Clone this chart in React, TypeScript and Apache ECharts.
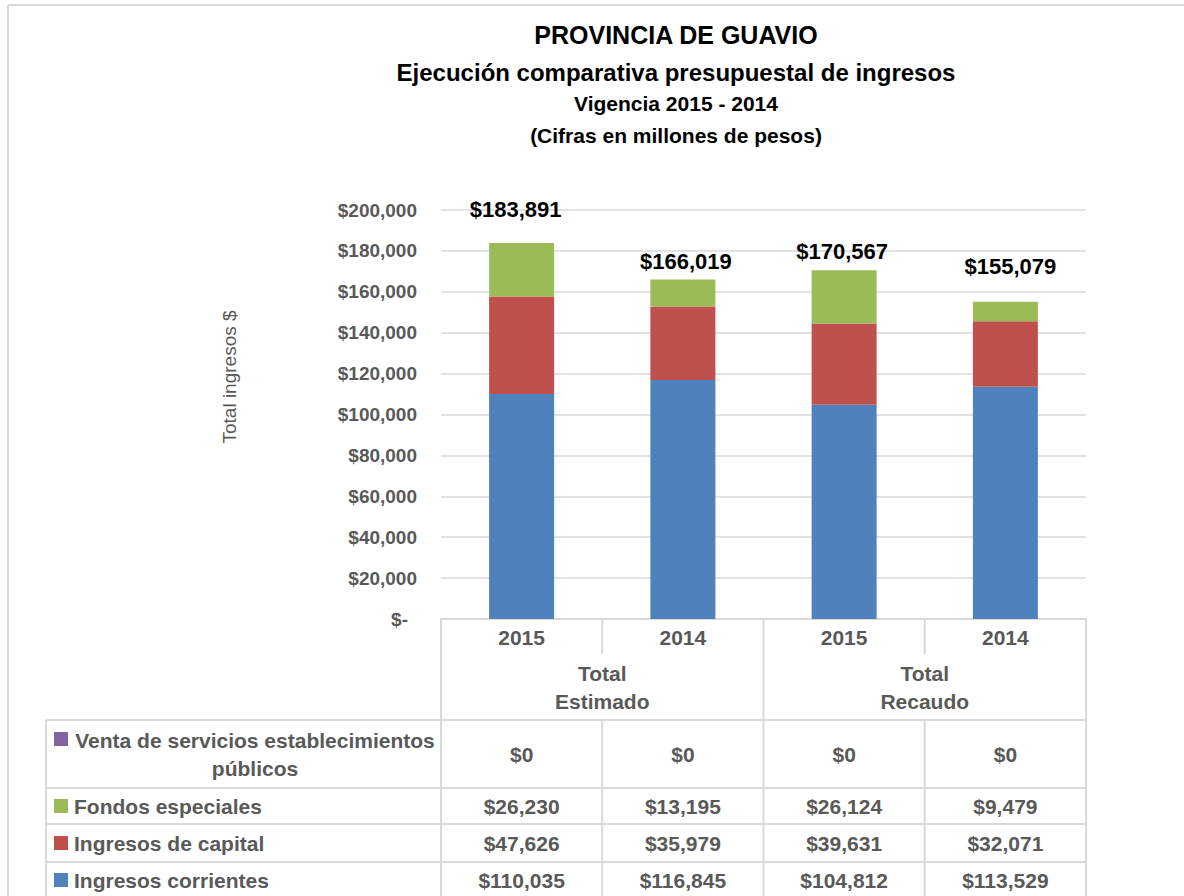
import React, { useEffect, useRef } from 'react';
import * as echarts from 'echarts';

// ---- Data ----
const years = ['2015', '2014', '2015', '2014'];
const groupLabels = ['Total\nEstimado', 'Total\nRecaudo'];
const ventaServicios = [0, 0, 0, 0];
const fondosEspeciales = [26230, 13195, 26124, 9479];
const ingresosCapital = [47626, 35979, 39631, 32071];
const ingresosCorrientes = [110035, 116845, 104812, 113529];
const seriesNames = [
  'Venta de servicios establecimientos públicos',
  'Fondos especiales',
  'Ingresos de capital',
  'Ingresos corrientes',
];
const titleLines = [
  'PROVINCIA DE GUAVIO',
  'Ejecución comparativa presupuestal de ingresos',
  'Vigencia 2015 - 2014',
  '(Cifras en millones de pesos)',
];
const yAxisTitle = 'Total ingresos $';
const yMin = 0;
const yMax = 200000;
const yStep = 20000;

// ---- Layout / style (not data) ----
const W = 1184;
const H = 896;
const gridLeft = 441;
const gridRight = 1086;
const gridTop = 210;
const gridBottom = 619;
const FONT = '"Liberation Sans", Arial, sans-serif';
const GRAY = '#595959';
const LINE = '#d9d9d9';
const COLORS = {
  venta: '#8064A2',
  fondos: '#9BBB59',
  capital: '#C0504D',
  corrientes: '#4F81BD',
};
// manual nudges of total labels: [dx, distance above bar]
const totalLabelNudge: [number, number][] = [
  [-6, 22],
  [3, 7],
  [-2, 8],
  [5, 24],
];

const fmtMoney = (v: number) => '$' + v.toLocaleString('en-US');

export default function App() {
  const ref = useRef<HTMLDivElement>(null);

  useEffect(() => {
    if (!ref.current) return;
    const chart = echarts.init(ref.current, undefined, { renderer: 'svg' });

    const n = years.length;
    const bandW = (gridRight - gridLeft) / n;
    const colCenter = (i: number) => gridLeft + bandW * (i + 0.5);
    const totals = years.map(
      (_, i) => ingresosCorrientes[i] + ingresosCapital[i] + fondosEspeciales[i] + ventaServicios[i]
    );

    const graphics: any[] = [];
    const line = (x1: number, y1: number, x2: number, y2: number, w = 2) =>
      graphics.push({
        type: 'line',
        shape: { x1, y1, x2, y2 },
        style: { stroke: LINE, lineWidth: w },
        silent: true,
      });
    const text = (
      t: string,
      x: number,
      y: number,
      size: number,
      opts: any = {}
    ) =>
      graphics.push({
        type: 'text',
        x,
        y,
        rotation: opts.rotation || 0,
        silent: true,
        style: {
          text: t,
          fontFamily: FONT,
          fontSize: size,
          fontWeight: opts.weight || 'bold',
          fill: opts.fill || GRAY,
          align: opts.align || 'center',
          verticalAlign: 'middle',
          lineHeight: opts.lineHeight,
        },
      });

    // outer frame
    line(8, 5, W, 5);
    line(8, 5, 8, H);

    // titles
    const titleY = [35, 72, 103, 135];
    const titleSize = [25, 24, 21, 21];
    titleLines.forEach((t, i) => text(t, 676, titleY[i], titleSize[i], { fill: '#000' }));

    // y-axis title
    text(yAxisTitle, 229, 377, 19, { weight: 'normal', rotation: Math.PI / 2 });

    // axis-area table lines
    const groupBottom = 720;
    line(gridLeft, gridBottom, gridLeft, H);
    line(gridRight, gridBottom, gridRight, H);
    const midX = gridLeft + bandW * 2;
    line(midX, gridBottom, midX, H);
    [1, 3].forEach((k) => {
      const x = gridLeft + bandW * k;
      line(x, gridBottom, x, 654);
      line(x, groupBottom, x, H);
    });
    // group labels
    groupLabels.forEach((g, gi) => {
      text(g, gridLeft + bandW * (gi * 2 + 1), 687, 21, { lineHeight: 28 });
    });

    // data table rows
    const tableLeft = 46;
    const rowLines = [720, 788, 824, 862];
    rowLines.forEach((y) => line(tableLeft, y, gridRight, y));
    line(tableLeft, 720, tableLeft, H);

    const rows = [
      { name: seriesNames[0], data: ventaServicios, color: COLORS.venta, y: 754 },
      { name: seriesNames[1], data: fondosEspeciales, color: COLORS.fondos, y: 806 },
      { name: seriesNames[2], data: ingresosCapital, color: COLORS.capital, y: 843 },
      { name: seriesNames[3], data: ingresosCorrientes, color: COLORS.corrientes, y: 880 },
    ];
    rows.forEach((r, ri) => {
      if (ri === 0) {
        graphics.push({
          type: 'rect',
          shape: { x: 54, y: 732, width: 14, height: 14 },
          style: { fill: r.color },
          silent: true,
        });
        text('Venta de servicios establecimientos', 255, 740, 21);
        text('públicos', 255, 768, 21);
      } else {
        graphics.push({
          type: 'rect',
          shape: { x: 54, y: r.y - 7, width: 14, height: 14 },
          style: { fill: r.color },
          silent: true,
        });
        text(r.name, 74, r.y, 21, { align: 'left' });
      }
      r.data.forEach((v, i) => text(fmtMoney(v), colCenter(i), r.y, 21));
    });

    const barBase = {
      type: 'bar',
      stack: 'total',
      barWidth: 65,
      emphasis: { disabled: true },
    };

    chart.setOption({
      animation: false,
      backgroundColor: '#fff',
      grid: {
        left: gridLeft,
        right: W - gridRight,
        top: gridTop,
        bottom: H - gridBottom,
        containLabel: false,
      },
      xAxis: {
        type: 'category',
        data: years,
        axisLine: { lineStyle: { color: LINE, width: 2 } },
        axisTick: { show: false },
        axisLabel: {
          margin: 8,
          fontFamily: FONT,
          fontSize: 21,
          fontWeight: 'bold',
          color: GRAY,
        },
      },
      yAxis: {
        type: 'value',
        min: yMin,
        max: yMax,
        interval: yStep,
        axisLine: { show: false },
        axisTick: { show: false },
        splitLine: { lineStyle: { color: LINE, width: 1.5 } },
        axisLabel: {
          margin: 24,
          formatter: (v: number) => (v === 0 ? '{z|$-}' : '{a|' + fmtMoney(v) + '}'),
          rich: {
            a: { fontFamily: FONT, fontSize: 19, fontWeight: 'bold', color: GRAY },
            z: {
              fontFamily: FONT,
              fontSize: 19,
              fontWeight: 'bold',
              color: GRAY,
              padding: [0, 9, 0, 0],
            },
          },
        },
      },
      series: [
        {
          ...barBase,
          name: seriesNames[3],
          data: ingresosCorrientes,
          itemStyle: { color: COLORS.corrientes },
        },
        {
          ...barBase,
          name: seriesNames[2],
          data: ingresosCapital,
          itemStyle: { color: COLORS.capital },
        },
        {
          ...barBase,
          name: seriesNames[1],
          itemStyle: { color: COLORS.fondos },
          data: fondosEspeciales.map((v, i) => ({
            value: v,
            label: {
              show: true,
              position: 'top',
              distance: totalLabelNudge[i][1],
              offset: [totalLabelNudge[i][0], 0],
              formatter: () => fmtMoney(totals[i]),
              fontFamily: FONT,
              fontSize: 22,
              fontWeight: 'bold',
              color: '#000',
            },
          })),
        },
        {
          ...barBase,
          name: seriesNames[0],
          data: ventaServicios,
          itemStyle: { color: COLORS.venta },
        },
      ],
      graphic: graphics,
    });

    return () => chart.dispose();
  }, []);

  return (
    <div
      ref={ref}
      style={{ position: 'fixed', left: 0, top: 0, width: W, height: H, background: '#fff' }}
    />
  );
}
